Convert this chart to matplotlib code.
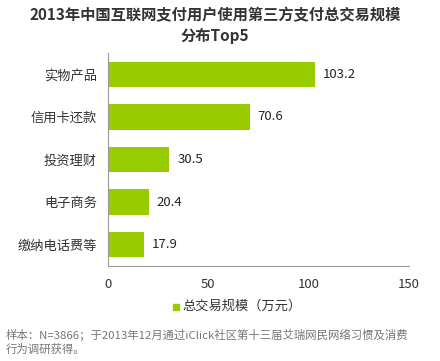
import matplotlib
matplotlib.use("Agg")
import matplotlib.pyplot as plt

plt.rcParams['font.family'] = ['Noto Sans CJK SC', 'DejaVu Sans']

categories = ["实物产品", "信用卡还款", "投资理财", "电子商务", "缴纳电话费等"]
values = [103.2, 70.6, 30.5, 20.4, 17.9]
xticks = [0, 50, 100, 150]
title = "2013年中国互联网支付用户使用第三方支付总交易规模\n分布Top5"
legend_label = "总交易规模（万元）"
footnote = "样本：N=3866；于2013年12月通过iClick社区第十三届艾瑞网民网络习惯及消费\n行为调研获得。"

W, H = 440, 361
fig = plt.figure(figsize=(W/100, H/100), dpi=100)
ax = fig.add_axes([108/W, 1-266/H, (409-108)/W, (266-53)/H])

green = "#99cc00"
ypos = list(range(len(categories)))[::-1]
ax.barh(ypos, values, height=0.6, color=green)
for y, v in zip(ypos, values):
    ax.text(v + 4, y, f"{v}", va="center", ha="left", fontsize=9.5, color="#222222")

ax.set_xlim(0, 150)
ax.set_ylim(-0.5, 4.5)
ax.set_xticks(xticks)
ax.set_xticklabels([str(t) for t in xticks], fontsize=9.5, color="#333333")
ax.set_yticks(ypos)
ax.set_yticklabels(categories, fontsize=9.5, color="#333333")
ax.tick_params(axis='both', length=0, pad=8)
ax.tick_params(axis='x', pad=9)
for s in ["top", "right"]:
    ax.spines[s].set_visible(False)
for s in ["left", "bottom"]:
    ax.spines[s].set_color("#999999")
    ax.spines[s].set_linewidth(0.8)

fig.text(215/W, 1-26/H, title, ha="center", va="center", fontsize=11,
         fontweight="bold", color="#333333", linespacing=1.35)

# legend
fig.patches.append(plt.Rectangle((173/W, 1-310/H), 6/W, 6/H, color=green,
                                 transform=fig.transFigure, figure=fig))
fig.text(182/W, 1-306/H, legend_label, ha="left", va="center", fontsize=9.5, color="#333333")

fig.text(6/W, 1-342/H, footnote, ha="left", va="center", fontsize=8.2,
         color="#777777", linespacing=1.3)

fig.savefig("out.png", dpi=100, facecolor="white")
